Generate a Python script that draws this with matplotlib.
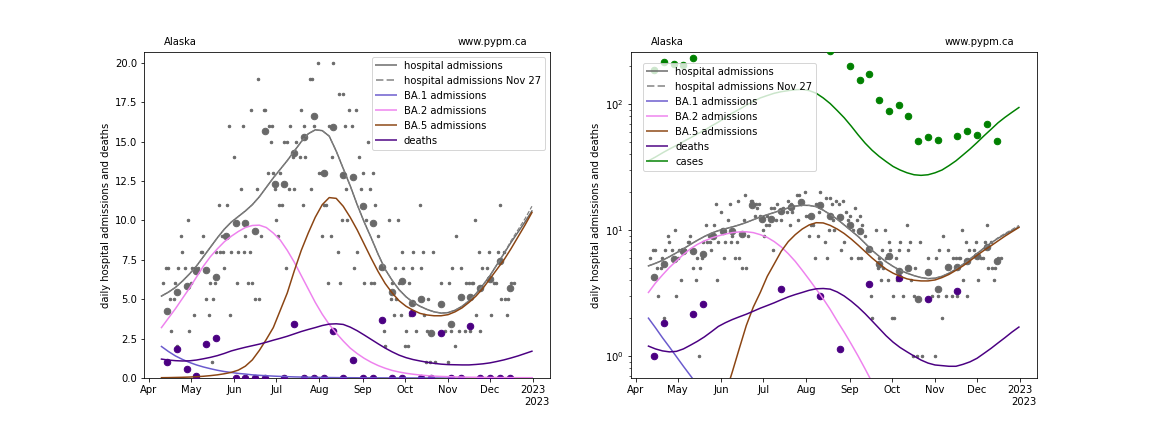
import numpy as np
import pandas as pd
import matplotlib
matplotlib.use('Agg')
import matplotlib.pyplot as plt
import matplotlib.dates as mdates
from matplotlib.lines import Line2D

start = pd.Timestamp('2022-04-01')

# ----- model curves, read every 5 days (days after Apr 1) ----- #
curve_days = list(range(9, 270, 5)) + [274]
hosp_model = [5.2, 5.45, 5.75, 6.15, 6.6, 7.1, 7.7, 8.3, 8.9, 9.45,
              9.9, 10.25, 10.6, 11.0, 11.5, 12.1, 12.7, 13.25, 13.8, 14.4,
              15.0, 15.5, 15.75, 15.7, 15.35, 14.4, 13.3, 12.2, 11.0, 9.9,
              8.9, 7.85, 6.9, 6.2, 5.6, 5.15, 4.8, 4.55, 4.35, 4.2,
              4.12, 4.15, 4.3, 4.55, 4.9, 5.35, 5.9, 6.5, 7.2, 7.9,
              8.6, 9.25, 9.9, 10.6]
hosp_nov27 = [5.2, 5.45, 5.75, 6.15, 6.6, 7.1, 7.7, 8.3, 8.9, 9.45,
              9.9, 10.25, 10.6, 11.0, 11.5, 12.1, 12.7, 13.25, 13.8, 14.4,
              15.0, 15.5, 15.75, 15.7, 15.35, 14.4, 13.3, 12.2, 11.0, 9.9,
              8.9, 7.85, 6.9, 6.2, 5.6, 5.15, 4.8, 4.55, 4.35, 4.2,
              4.12, 4.15, 4.3, 4.55, 4.9, 5.35, 5.9, 6.5, 7.2, 7.9,
              8.7, 9.4, 10.1, 10.9]
ba1_model = [2.0, 1.68, 1.4, 1.18, 0.99, 0.83, 0.70, 0.59, 0.49, 0.41,
             0.35, 0.29, 0.25, 0.2, 0.17, 0.145, 0.12, 0.1, 0.085, 0.07,
             0.06, 0.05, 0.042, 0.035, 0.03, 0.025, 0.021, 0.018, 0.015, 0.012,
             0.01, 0.0085, 0.007, 0.006, 0.005, 0.004, 0.0035, 0.003, 0.0025, 0.002,
             0.0018, 0.0015, 0.0013, 0.0011, 0.0009, 0.0008, 0.0006, 0.0005, 0.0004, 0.0004,
             0.0003, 0.0003, 0.0002, 0.0002]
ba2_model = [3.2, 3.8, 4.4, 5.05, 5.7, 6.4, 7.1, 7.7, 8.2, 8.65,
             9.0, 9.3, 9.55, 9.68, 9.7, 9.55, 9.2, 8.75, 8.1, 7.35,
             6.5, 5.65, 4.8, 4.05, 3.4, 2.85, 2.35, 1.9, 1.55, 1.25,
             1.0, 0.79, 0.62, 0.48, 0.38, 0.3, 0.24, 0.19, 0.15, 0.12,
             0.1, 0.085, 0.07, 0.06, 0.05, 0.045, 0.04, 0.035, 0.03, 0.028,
             0.025, 0.022, 0.02, 0.02]
ba5_model = [0.02, 0.025, 0.035, 0.045, 0.06, 0.08, 0.11, 0.15, 0.2, 0.27,
             0.36, 0.5, 0.75, 1.15, 1.75, 2.45, 3.2, 4.3, 5.4, 6.8,
             8.1, 9.2, 10.2, 11.0, 11.45, 11.4, 10.9, 10.2, 9.4, 8.5,
             7.6, 6.75, 6.0, 5.4, 4.9, 4.55, 4.3, 4.1, 4.0, 3.95,
             3.95, 4.02, 4.2, 4.45, 4.8, 5.2, 5.7, 6.3, 6.9, 7.5,
             8.2, 8.95, 9.7, 10.5]
death_model = [1.2, 1.14, 1.1, 1.08, 1.09, 1.14, 1.22, 1.31, 1.42, 1.56,
               1.72, 1.84, 1.95, 2.05, 2.15, 2.27, 2.4, 2.52, 2.65, 2.8,
               2.95, 3.08, 3.2, 3.33, 3.42, 3.44, 3.4, 3.23, 3.0, 2.73,
               2.45, 2.17, 1.9, 1.66, 1.45, 1.29, 1.17, 1.08, 1.0, 0.93,
               0.88, 0.85, 0.84, 0.83, 0.83, 0.86, 0.9, 0.96, 1.05, 1.15,
               1.27, 1.4, 1.55, 1.7]
case_model = [35.5, 38, 41, 44, 47, 50.5, 54, 58, 62, 67,
              72, 78, 85, 91, 98, 105, 112, 117, 122, 125.5,
              128, 130, 131, 128, 122, 112, 101, 89, 78, 67,
              57, 49, 43, 38.5, 35, 32, 30, 28.5, 27.5, 27.2,
              27.5, 28.5, 30, 32.5, 35.5, 39.5, 44, 49.5, 56, 63,
              71, 78.5, 86, 94]

# ----- weekly data (every 7 days from Apr 14) ----- #
weekly_dates = pd.date_range('2022-04-14', periods=36, freq='7D')
hosp_weekly = [4.27, 5.43, 5.86, 6.77, 6.88, 6.41, 9.04, 9.85, 9.85, 9.3, 15.7, 12.3,
               12.3, 14.3, 15.3, 16.6, 13.0, 15.9, 12.87, 12.76, 10.9, 9.85, 7.05, 5.43,
               6.18, 4.76, 5.01, 2.85, 4.69, 3.42, 5.14, 5.14, 5.71, 6.28, 7.41, 5.71]
death_weekly = [1.0, 1.83, 0.57, 0.14, 2.14, 2.57, np.nan, 0, 0, 0, 0, np.nan,
                0, 3.42, 0, 0, 0, 2.98, 0, 1.14, 0, 0, 3.71, 0,
                0, 4.14, 0, 0, 2.86, 0, 0, 3.29, 0, 0, 0, 0]
# cases between late May and mid Aug are off the top of the log chart
case_weekly = [186, 215, 210, 205, 231, np.nan, np.nan, np.nan, np.nan, np.nan, np.nan, np.nan,
               np.nan, np.nan, np.nan, np.nan, np.nan, np.nan, 262, np.nan, 200, 155, 172, 108,
               88, 98, 80, 51, 55, 52, np.nan, 56, 61, 57, 70, 51]

# ----- daily hospital admissions (day after Apr 1, count) ----- #
daily_days = [10, 12, 14, 15, 16, 18, 19, 20, 21, 23, 24, 26, 28, 29, 30, 31, 32, 33, 35, 37,
              38, 39, 41, 43, 44, 45, 46, 47, 48, 50, 51, 52, 53, 54, 55, 56, 57, 58, 59, 61,
              63, 64, 66, 67, 68, 69, 71, 72, 73, 74, 76, 77, 78, 79, 80, 82, 83, 85, 86, 87,
              88, 89, 90, 91, 92, 93, 94, 95, 97, 98, 99, 100, 101, 103, 104, 105, 108, 109, 110, 111,
              112, 115, 116, 117, 118, 121, 122, 123, 124, 125, 127, 128, 129, 130, 131, 132, 135, 136, 137, 138,
              139, 140, 141, 142, 143, 145, 147, 148, 149, 150, 152, 153, 154, 155, 157, 158, 159, 160, 161, 162,
              164, 165, 168, 169, 172, 173, 174, 175, 176, 177, 178, 179, 180, 181, 182, 183, 184, 185, 186, 187,
              188, 189, 191, 194, 195, 196, 197, 198, 199, 200, 201, 203, 205, 209, 212, 214, 215, 216, 217, 219,
              220, 222, 223, 226, 227, 229, 230, 231, 232, 233, 234, 236, 237, 238, 242, 243, 245, 247, 248, 250,
              251, 252, 254, 255, 256, 257, 259, 261]
daily_vals = [6, 7, 7, 5, 3, 5, 6, 2, 7, 9, 8, 7, 10, 3, 6, 7, 4, 7, 7, 8,
              8, 9, 5, 4, 6, 1, 5, 6, 8, 11, 8, 9, 8, 7, 9, 11, 16, 4, 8, 14,
              6, 8, 12, 16, 8, 9, 6, 8, 17, 6, 5, 12, 19, 5, 9, 17, 17, 13, 16, 15,
              16, 13, 12, 10, 9, 11, 13, 11, 15, 7, 15, 12, 16, 14, 12, 15, 14, 17, 11, 16,
              14, 19, 12, 19, 16, 20, 13, 13, 9, 11, 11, 6, 16, 9, 14, 20, 8, 18, 6, 10,
              18, 16, 12, 10, 17, 16, 7, 17, 8, 14, 12, 13, 6, 10, 15, 12, 6, 13, 6, 11,
              9, 7, 3, 2, 10, 5, 6, 4, 7, 5, 10, 6, 4, 8, 7, 2, 3, 2, 6, 4,
              7, 8, 3, 11, 7, 8, 4, 1, 3, 5, 1, 8, 1, 6, 3, 1, 6, 3, 7, 2,
              9, 3, 7, 3, 6, 6, 3, 6, 6, 10, 4, 8, 3, 7, 7, 8, 4, 6, 6, 8,
              11, 5, 8, 5, 4, 5, 6, 6]

curve_dates = start + pd.to_timedelta(curve_days, unit='D')
daily_dates = start + pd.to_timedelta(daily_days, unit='D')

colors = {'hosp': 'dimgrey', 'ba1': 'slateblue', 'ba2': 'violet',
          'ba5': 'saddlebrown', 'death': 'indigo', 'case': 'green'}


def draw_panel(ax, with_cases):
    ax.plot(daily_dates, daily_vals, 'o', color=colors['hosp'], ms=2.5, zorder=2)
    ax.plot(weekly_dates, hosp_weekly, 'o', color=colors['hosp'], ms=6.5, zorder=3)
    ax.plot(weekly_dates, death_weekly, 'o', color=colors['death'], ms=6.5, zorder=3)
    if with_cases:
        ax.plot(weekly_dates, case_weekly, 'o', color=colors['case'], ms=6.5, zorder=3)
    ax.plot(curve_dates, hosp_model, color=colors['hosp'], lw=1.5, zorder=4)
    ax.plot(curve_dates, hosp_nov27, color='grey', lw=1.2, ls='--', zorder=4)
    ax.plot(curve_dates, ba1_model, color=colors['ba1'], lw=1.5, zorder=4)
    ax.plot(curve_dates, ba2_model, color=colors['ba2'], lw=1.5, zorder=4)
    ax.plot(curve_dates, ba5_model, color=colors['ba5'], lw=1.5, zorder=4)
    ax.plot(curve_dates, death_model, color=colors['death'], lw=1.5, zorder=4)
    if with_cases:
        ax.plot(curve_dates, case_model, color=colors['case'], lw=1.5, zorder=4)

    # legend entries drawn a little lighter, as in the original
    handles = [Line2D([], [], color=colors['hosp'], alpha=0.75, lw=2),
               Line2D([], [], color='grey', alpha=0.75, lw=2, ls='--'),
               Line2D([], [], color=colors['ba1'], alpha=0.75, lw=2),
               Line2D([], [], color=colors['ba2'], alpha=0.75, lw=2),
               Line2D([], [], color=colors['ba5'], alpha=0.75, lw=2),
               Line2D([], [], color=colors['death'], alpha=0.75, lw=2)]
    labels = ['hospital admissions', 'hospital admissions Nov 27', 'BA.1 admissions',
              'BA.2 admissions', 'BA.5 admissions', 'deaths']
    if with_cases:
        handles.append(Line2D([], [], color=colors['case'], alpha=0.75, lw=2))
        labels.append('cases')
        leg = ax.legend(handles, labels, loc='upper left', bbox_to_anchor=(0.018, 0.982))
    else:
        leg = ax.legend(handles, labels, loc='upper right')
    leg.set_zorder(5)

    ax.set_xlim(start - pd.Timedelta(days=3.5), start + pd.Timedelta(days=286.8))
    locator = mdates.MonthLocator()
    ax.xaxis.set_major_locator(locator)
    ax.xaxis.set_major_formatter(mdates.ConciseDateFormatter(locator))
    # year offset under the axis, as in the original
    ax.text(1.0, -0.058, '2023', transform=ax.transAxes, ha='right', va='top')
    ax.set_ylabel('daily hospital admissions and deaths')
    ax.text(0.05, 1.015, 'Alaska', transform=ax.transAxes, va='bottom', ha='left')
    ax.text(0.945, 1.015, 'www.pypm.ca', transform=ax.transAxes, va='bottom', ha='right')


fig, (ax1, ax2) = plt.subplots(1, 2, figsize=(16, 6), dpi=72)
fig.subplots_adjust(bottom=0.125)

draw_panel(ax1, with_cases=False)
ax1.set_ylim(0, 20.7)

draw_panel(ax2, with_cases=True)
ax2.set_yscale('log')
ax2.set_ylim(0.67, 260)

plt.savefig('out.png', dpi=72)
